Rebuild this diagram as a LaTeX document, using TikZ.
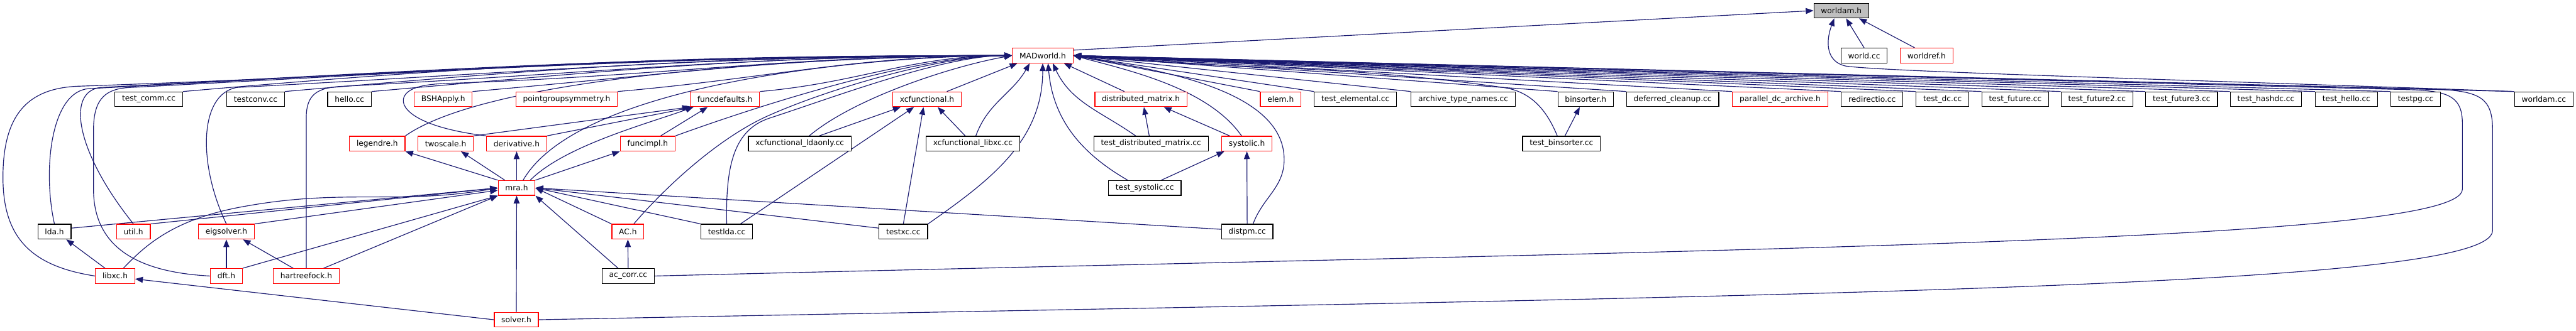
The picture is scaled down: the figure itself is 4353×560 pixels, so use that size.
\documentclass[tikz,border=0pt]{standalone}
\usepackage{fontspec}
\setmainfont{DejaVu Sans}
\usetikzlibrary{arrows.meta,calc,backgrounds}
\definecolor{edgeblue}{HTML}{191970}
\definecolor{hdrred}{HTML}{FF0000}
\definecolor{rootgray}{HTML}{BFBFBF}
\begin{document}
\begin{tikzpicture}[
        x=0.02cm, y=0.02cm,
        file_box/.style={rectangle, draw, line width=0.75pt, minimum height=0.5cm, inner xsep=0.24cm, inner ysep=0pt, fill=white, font=\fontsize{7.4}{9}\selectfont},
        header/.style={file_box, draw=hdrred},
        source/.style={file_box, draw=black},
        focus/.style={file_box, draw=black, fill=rootgray},
        dep_arrow/.style={-{Triangle[length=0.26cm, width=0.2cm]}, draw=edgeblue, line width=0.7pt}
    ]

    \useasboundingbox (0,0) rectangle (4353,560);

    % Top rows: the focus header and its direct includers
    \node[focus] (worldam) at (3111.5,542) {worldam.h};
    \node[header] (madworld) at (1762,466) {MADworld.h};
    \node[source] (worldcc) at (3150,466) {world.cc};
    \node[header] (worldref) at (3255.5,466) {worldref.h};

    % Row 3 (everything that includes MADworld.h directly)
    \node[source] (testcomm) at (251.5,392) {test\_comm.cc};
    \node[source] (testconv) at (432,392) {testconv.cc};
    \node[source] (hello) at (590.5,392) {hello.cc};
    \node[header] (bshapply) at (749,392) {BSHApply.h};
    \node[header] (pointgroup) at (957.5,392) {pointgroupsymmetry.h};
    \node[header] (funcdefaults) at (1225,392) {funcdefaults.h};
    \node[header] (xcfunctional) at (1566.5,392) {xcfunctional.h};
    \node[header] (distmatrix) at (1928,392) {distributed\_matrix.h};
    \node[header] (elem) at (2164,392) {elem.h};
    \node[source] (testelemental) at (2290.5,392) {test\_elemental.cc};
    \node[source] (archive) at (2472.5,392) {archive\_type\_names.cc};
    \node[source] (binsorter) at (2679.5,392) {binsorter.h};
    \node[source] (deferred) at (2826.5,392) {deferred\_cleanup.cc};
    \node[header] (paralleldc) at (3008,392) {parallel\_dc\_archive.h};
    \node[source] (redirectio) at (3163.5,392) {redirectio.cc};
    \node[source] (testdc) at (3282.5,392) {test\_dc.cc};
    \node[source] (testfuture) at (3405.5,392) {test\_future.cc};
    \node[source] (testfuture2) at (3543.5,392) {test\_future2.cc};
    \node[source] (testfuture3) at (3686.5,392) {test\_future3.cc};
    \node[source] (testhashdc) at (3829,392) {test\_hashdc.cc};
    \node[source] (testhello) at (3965,392) {test\_hello.cc};
    \node[source] (testpg) at (4082,392) {testpg.cc};
    \node[source] (worldamcc) at (4298.5,392) {worldam.cc};

    % Row 4
    \node[header] (legendre) at (637.5,317) {legendre.h};
    \node[header] (twoscale) at (753,317) {twoscale.h};
    \node[header] (derivative) at (873,317) {derivative.h};
    \node[header] (funcimpl) at (1094.5,317) {funcimpl.h};
    \node[source] (xcldaonly) at (1351.5,317) {xcfunctional\_ldaonly.cc};
    \node[source] (xclibxc) at (1644,317) {xcfunctional\_libxc.cc};
    \node[source] (testdistmatrix) at (1945,317) {test\_distributed\_matrix.cc};
    \node[header] (systolic) at (2107,317) {systolic.h};
    \node[source] (testbinsorter) at (2638.5,317) {test\_binsorter.cc};

    % Row 5
    \node[header] (mra) at (873,242) {mra.h};
    \node[source] (testsystolic) at (1934.5,242) {test\_systolic.cc};

    % Rows 6 to 8
    \node[source] (lda) at (92,168) {lda.h};
    \node[header] (util) at (225.5,168) {util.h};
    \node[header] (eigsolver) at (382.5,168) {eigsolver.h};
    \node[header] (ach) at (1061,168) {AC.h};
    \node[source] (testlda) at (1228,168) {testlda.cc};
    \node[source] (testxc) at (1526.5,168) {testxc.cc};
    \node[source] (distpm) at (2107.5,168) {distpm.cc};
    \node[header] (libxc) at (194.5,93) {libxc.h};
    \node[header] (dft) at (382.5,93) {dft.h};
    \node[header] (hartreefock) at (517.5,93) {hartreefock.h};
    \node[source] (accorr) at (1061.5,93) {ac\_corr.cc};
    \node[header] (solver) at (872.5,19) {solver.h};

    \begin{pgfonlayer}{background}
    % Edges into worldam.h
    \draw[dep_arrow] (madworld.10) -- (worldam.west);
    \draw[dep_arrow] (worldcc.north) -- ($(worldam.south)+(8,0)$);
    \draw[dep_arrow] ($(worldref.north)+(-20,0)$) -- ($(worldam.south)+(30,0)$);
    \draw[dep_arrow] (worldamcc.north west) .. controls (3700,425) and (3200,438) .. (3120,448) .. controls (3085,455) and (3085,490) .. ($(worldam.south)+(-12,0)$);

    % Edges into MADworld.h, straight from row 3
    \foreach \n in {testcomm,testconv,hello,bshapply,pointgroup,funcdefaults}
        \draw[dep_arrow] (\n.north east) to[out=5,in=180] (madworld.west);
    \foreach \n in {elem,testelemental,archive,binsorter,deferred,paralleldc,redirectio,testdc,testfuture,testfuture2,testfuture3,testhashdc,testhello,testpg,worldamcc}
        \draw[dep_arrow] (\n.north west) -- (madworld.east);

    % Edges into MADworld.h, curving up the left side
    \draw[dep_arrow] (lda.north) .. controls (72,270) and (85,405) .. (150,410) to[out=3,in=180] (madworld.west);
    \draw[dep_arrow] (util.north) .. controls (130,300) and (110,405) .. (170,412) to[out=3,in=180] (madworld.west);
    \draw[dep_arrow] (eigsolver.north) .. controls (335,280) and (335,400) .. (400,412) to[out=3,in=180] (madworld.west);
    \draw[dep_arrow] (libxc.west) .. controls (50,110) and (5,160) .. (5,260) .. controls (5,370) and (50,410) .. (130,414) to[out=2,in=180] (madworld.west);
    \draw[dep_arrow] (dft.west) .. controls (220,100) and (158,150) .. (158,240) -- (158,340) .. controls (158,395) and (180,410) .. (220,412) to[out=3,in=180] (madworld.west);
    \draw[dep_arrow] (hartreefock.north) -- (517.5,360) .. controls (517.5,400) and (535,412) .. (580,414) to[out=3,in=180] (madworld.west);
    \draw[dep_arrow] (legendre.north east) to[out=35,in=180,looseness=0.5] (madworld.west);
    \draw[dep_arrow] (derivative.north west) .. controls (700,345) and (670,380) .. (685,400) .. controls (695,413) and (720,418) .. (760,419) to[out=2,in=180] (madworld.west);
    \draw[dep_arrow] ($(mra.north)+(11,0)$) to[out=60,in=180,looseness=0.6] (madworld.west);
    \draw[dep_arrow] (funcimpl.north east) to[out=20,in=180,looseness=0.7] (madworld.west);
    \draw[dep_arrow] ($(ach.north)+(10,0)$) .. controls (1130,250) and (1220,330) .. (1300,365) to[out=24,in=180,looseness=0.7] (madworld.west);
    \draw[dep_arrow] (testlda.north) .. controls (1226,280) and (1240,340) .. (1300,360) to[out=18,in=180,looseness=0.7] (madworld.west);
    \draw[dep_arrow] ($(xcldaonly.north)+(16,0)$) to[out=40,in=190,looseness=0.7] (madworld.west);

    % Edges into MADworld.h from below
    \draw[dep_arrow] ($(xcfunctional.north east)+(-25,0)$) -- ($(madworld.south west)+(9,0)$);
    \draw[dep_arrow] ($(xclibxc.north)+(5,0)$) to[out=70,in=-120] ($(madworld.south)+(-22,0)$);
    \draw[dep_arrow] (testxc.north east) to[out=35,in=-90] (madworld.south);
    \draw[dep_arrow] ($(testsystolic.north west)+(33,0)$) to[out=150,in=-85] ($(madworld.south)+(9,0)$);
    \draw[dep_arrow] ($(testdistmatrix.north)+(-26,0)$) to[out=145,in=-65] ($(madworld.south)+(17,0)$);
    \draw[dep_arrow] ($(distmatrix.north)+(-28,0)$) -- ($(madworld.south east)+(-16,0)$);
    \draw[dep_arrow] ($(systolic.north)+(-9,0)$) to[out=125,in=-15,looseness=0.8] (madworld.east);
    \draw[dep_arrow] ($(distpm.north)+(10,0)$) to[out=70,in=-90] (2170,290) to[out=90,in=-10,looseness=0.8] (madworld.east);
    \draw[dep_arrow] ($(testbinsorter.north)+(-7,0)$) .. controls (2615,370) and (2590,405) .. (2540,412) to[out=172,in=-5] (madworld.east);

    % Long detours round the right end
    \draw[dep_arrow] (accorr.east) .. controls (3000,140) and (4161,150) .. (4161,240) -- (4161,350) .. controls (4161,395) and (4140,405) .. (4080,408) -- (madworld.east);
    \draw[dep_arrow] (solver.east) .. controls (3000,60) and (4212,70) .. (4212,170) -- (4212,340) .. controls (4212,395) and (4190,405) .. (4120,409) -- (madworld.east);

    % Edges among the mra headers
    \draw[dep_arrow] (mra.north west) -- (legendre.south east);
    \draw[dep_arrow] ($(mra.north)+(-20,0)$) -- ($(twoscale.south)+(26,0)$);
    \draw[dep_arrow] (mra.north) -- (derivative.south);
    \draw[dep_arrow] (mra.north east) -- (funcimpl.south west);
    \draw[dep_arrow] (twoscale.north east) -- (funcdefaults.south west);
    \draw[dep_arrow] (derivative.north east) -- ($(funcdefaults.south west)+(6,0)$);
    \draw[dep_arrow] ($(mra.north)+(23,0)$) to[out=45,in=200,looseness=0.7] ($(funcdefaults.south west)+(6,0)$);
    \draw[dep_arrow] ($(funcimpl.north)+(22,0)$) -- ($(funcdefaults.south west)+(30,0)$);

    % Edges into mra.h
    \draw[dep_arrow] ($(lda.east)+(0,6)$) -- (mra.west);
    \draw[dep_arrow] (util.north east) -- (mra.west);
    \draw[dep_arrow] (eigsolver.north east) -- ($(mra.west)+(0,-4)$);
    \draw[dep_arrow] ($(libxc.north)+(14,0)$) .. controls (250,150) and (300,192) .. (420,212) to[out=10,in=190] (mra.west);
    \draw[dep_arrow] (dft.north east) -- (mra.south west);
    \draw[dep_arrow] ($(hartreefock.north east)+(-27,0)$) -- (mra.south west);
    \draw[dep_arrow] (ach.north west) -- (mra.east);
    \draw[dep_arrow] (testlda.north west) -- (mra.east);
    \draw[dep_arrow] ($(testxc.west)+(0,6)$) -- (mra.east);
    \draw[dep_arrow] ($(distpm.west)+(0,4)$) -- (mra.east);
    \draw[dep_arrow] ($(accorr.north)+(-17,0)$) -- (mra.south east);
    \draw[dep_arrow] (solver.north) -- (mra.south);

    % Remaining edges
    \draw[dep_arrow] ($(libxc.north)+(-17,0)$) -- ($(lda.south)+(20,0)$);
    \draw[dep_arrow] (dft.north) -- (eigsolver.south);
    \draw[dep_arrow] ($(hartreefock.north)+(-22,0)$) -- ($(eigsolver.south)+(28,0)$);
    \draw[dep_arrow] (solver.west) -- ($(libxc.east)+(0,-5)$);
    \draw[dep_arrow] (accorr.north) -- (ach.south);
    \draw[dep_arrow] ($(xcldaonly.north)+(33,0)$) -- ($(xcfunctional.south west)+(14,0)$);
    \draw[dep_arrow] ($(testlda.north east)+(-21,0)$) -- ($(xcfunctional.south)+(-22,0)$);
    \draw[dep_arrow] (testxc.north) -- ($(xcfunctional.south)+(-6,0)$);
    \draw[dep_arrow] ($(xclibxc.north)+(-13,0)$) -- ($(xcfunctional.south)+(18,0)$);
    \draw[dep_arrow] ($(testdistmatrix.north)+(-3,0)$) -- ($(distmatrix.south)+(5,0)$);
    \draw[dep_arrow] ($(systolic.north west)+(14,0)$) -- ($(distmatrix.south east)+(-40,0)$);
    \draw[dep_arrow] ($(testsystolic.north east)+(-34,0)$) -- ($(systolic.south west)+(5,0)$);
    \draw[dep_arrow] (distpm.north) -- (systolic.south);
    \draw[dep_arrow] ($(testbinsorter.north)+(6,0)$) -- ($(binsorter.south)+(-10,0)$);
    \end{pgfonlayer}

\end{tikzpicture}
\end{document}
